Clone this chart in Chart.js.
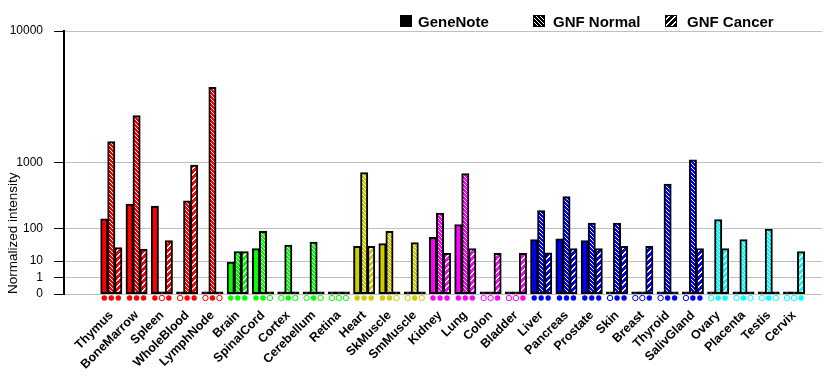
<!DOCTYPE html>
<html>
<head>
<meta charset="utf-8">
<script src="https://cdn.jsdelivr.net/npm/chart.js@4/dist/chart.umd.min.js"></script>
<style>
  html, body { margin: 0; padding: 0; background: #fff; }
</style>
</head>
<body>
<canvas id="chart" width="840" height="385"></canvas>
<script>
// categories (tissues) and their group colour
const categories = ['Thymus', 'BoneMarrow', 'Spleen', 'WholeBlood', 'LymphNode',
  'Brain', 'SpinalCord', 'Cortex', 'Cerebellum', 'Retina',
  'Heart', 'SkMuscle', 'SmMuscle',
  'Kidney', 'Lung', 'Colon', 'Bladder',
  'Liver', 'Pancreas', 'Prostate', 'Skin', 'Breast', 'Thyroid', 'SalivGland',
  'Ovary', 'Placenta', 'Testis', 'Cervix'];
const groupColors = ['#ff0000', '#ff0000', '#ff0000', '#ff0000', '#ff0000',
  '#00ff00', '#00ff00', '#00ff00', '#00ff00', '#00ff00',
  '#cccc00', '#cccc00', '#cccc00',
  '#ff00ff', '#ff00ff', '#ff00ff', '#ff00ff',
  '#0000ff', '#0000ff', '#0000ff', '#0000ff', '#0000ff', '#0000ff', '#0000ff',
  '#00ffff', '#00ffff', '#00ffff', '#00ffff'];

const seriesNames = ['GeneNote', 'GNF Normal', 'GNF Cancer'];

// normalized intensity
const geneNote  = [155, 280, 260, 0, 0, 9, 29, 0, 0, 0, 34, 41, 0, 60, 119, 0, 0, 53, 55, 50, 0, 0, 0, 0, 0, 0, 0, 0];
const gnfNormal = [1630, 2750, 0, 315, 4470, 23, 84, 37, 45, 0, 765, 85, 44, 198, 745, 0, 0, 219, 367, 127, 127, 0, 547, 1065, 150, 53, 95, 0];
const gnfCancer = [31, 28, 50, 935, 0, 23, 0, 0, 0, 0, 34, 0, 0, 20, 29, 20, 20, 21, 29, 29, 34, 34, 0, 29, 29, 0, 0, 23];

// present calls (filled marker = 1, hollow = 0)
const callGeneNote = [1, 1, 1, 0, 0, 1, 1, 0, 0, 0, 1, 1, 0, 1, 1, 0, 0, 1, 1, 1, 0, 0, 0, 0, 0, 0, 0, 0];
const callNormal   = [1, 1, 0, 1, 1, 1, 1, 1, 1, 0, 1, 1, 1, 1, 1, 0, 0, 1, 1, 1, 1, 0, 1, 1, 1, 1, 1, 0];
const callCancer   = [1, 1, 1, 1, 0, 1, 0, 0, 0, 0, 1, 0, 0, 1, 1, 1, 1, 1, 1, 1, 1, 1, 1, 1, 1, 0, 0, 1];

const yTickValues = [0, 1, 10, 100, 1000, 10000];

// axis is a power scale: height ~ v^log10(2), so each decade doubles
const POW = Math.log10(2);
const pw = v => (v <= 0 ? 0 : Math.pow(v, POW));

Chart.defaults.font.family = '"Liberation Sans", Arial, sans-serif';
Chart.defaults.color = '#000';

// hatch fills
const patternCache = {};
function hatch(color, kind) {
  const key = color + kind;
  if (patternCache[key]) return patternCache[key];
  const size = kind === 'normal' ? 4 : 6;
  const c = document.createElement('canvas');
  c.width = size; c.height = size;
  const g = c.getContext('2d');
  g.fillStyle = color;
  g.fillRect(0, 0, size, size);
  g.fillStyle = '#fff';
  for (let x = 0; x < size; x++) {
    for (let y = 0; y < size; y++) {
      if (kind === 'normal' && x === y) g.fillRect(x, y, 1, 1);
      if (kind === 'cancer' && ((x + y) % size === 0 || (x + y) % size === 1)) g.fillRect(x, y, 1, 1);
    }
  }
  patternCache[key] = g.createPattern(c, 'repeat');
  return patternCache[key];
}

function barSet(label, values, kind) {
  return {
    label: label,
    data: values.map((v, i) => ({ x: i, y: pw(v) })),
    backgroundColor: ctx => {
      if (!ctx.raw || ctx.raw.y === 0) return '#000';
      const col = groupColors[ctx.dataIndex];
      return kind === 'solid' ? col : hatch(col, kind);
    },
    borderColor: '#000',
    borderWidth: 2,
    borderSkipped: false,
    inflateAmount: 0.5,
    minBarLength: 2,
    barThickness: 7
  };
}

// present/absent markers under each bar
const callMarkers = {
  id: 'callMarkers',
  afterDatasetsDraw(chart) {
    const ctx = chart.ctx;
    const y = chart.chartArea.bottom + 4;
    [callGeneNote, callNormal, callCancer].forEach((calls, d) => {
      chart.getDatasetMeta(d).data.forEach((bar, i) => {
        ctx.save();
        ctx.beginPath();
        ctx.arc(bar.x, y, 2.7, 0, Math.PI * 2);
        if (calls[i]) {
          ctx.fillStyle = groupColors[i];
          ctx.fill();
        } else {
          ctx.fillStyle = '#fff';
          ctx.fill();
          ctx.lineWidth = 1;
          ctx.strokeStyle = groupColors[i];
          ctx.stroke();
        }
        ctx.restore();
      });
    });
  }
};

// legend laid out in fixed columns like the original
const topLegend = {
  id: 'topLegend',
  afterDraw(chart) {
    const ctx = chart.ctx;
    const boxX = [400, 533, 665];
    const textX = [418, 553, 687];
    const kinds = ['solid', 'normal', 'cancer'];
    ctx.save();
    seriesNames.forEach((name, k) => {
      ctx.fillStyle = kinds[k] === 'solid' ? '#000' : hatch('#000', kinds[k]);
      ctx.fillRect(boxX[k], 15, 12, 12);
      ctx.lineWidth = 1;
      ctx.strokeStyle = '#000';
      ctx.strokeRect(boxX[k] + 0.5, 15.5, 11, 11);
      ctx.fillStyle = '#000';
      ctx.font = 'bold 15px "Liberation Sans", Arial, sans-serif';
      ctx.textBaseline = 'alphabetic';
      ctx.fillText(name, textX[k], 27);
    });
    ctx.restore();
  }
};

new Chart(document.getElementById('chart'), {
  type: 'bar',
  data: {
    datasets: [
      barSet(seriesNames[0], geneNote, 'solid'),
      barSet(seriesNames[1], gnfNormal, 'normal'),
      barSet(seriesNames[2], gnfCancer, 'cancer')
    ]
  },
  options: {
    responsive: false,
    animation: false,
    layout: { padding: { left: 0, right: 18, top: 31, bottom: 0 } },
    plugins: {
      legend: { display: false },
      tooltip: { enabled: false }
    },
    scales: {
      x: {
        type: 'linear',
        min: -1.335,
        max: 27.57,
        afterBuildTicks: s => { s.ticks = categories.map((c, i) => ({ value: i })); },
        afterFit: s => { s.height = 91; },
        ticks: {
          autoSkip: false,
          minRotation: 45,
          maxRotation: 45,
          padding: 14,
          font: { size: 12.5, weight: 'bold' },
          callback: (v, i) => categories[i]
        },
        grid: { display: false, drawTicks: false },
        border: { display: false }
      },
      y: {
        min: 0,
        max: pw(10000),
        afterBuildTicks: s => { s.ticks = yTickValues.map(v => ({ value: pw(v) })); },
        afterFit: s => { s.width = 64; },
        ticks: {
          padding: 11,
          font: { size: 12 },
          callback: (v, i) => String(yTickValues[i])
        },
        grid: { color: '#c0c0c0', lineWidth: 1, tickColor: '#000', tickLength: 10 },
        border: { color: '#000', width: 2 },
        title: {
          display: true,
          text: 'Normalized intensity',
          align: 'start',
          font: { size: 13.5 },
          padding: { top: 5, bottom: 0 }
        }
      }
    }
  },
  plugins: [callMarkers, topLegend]
});
</script>
</body>
</html>
